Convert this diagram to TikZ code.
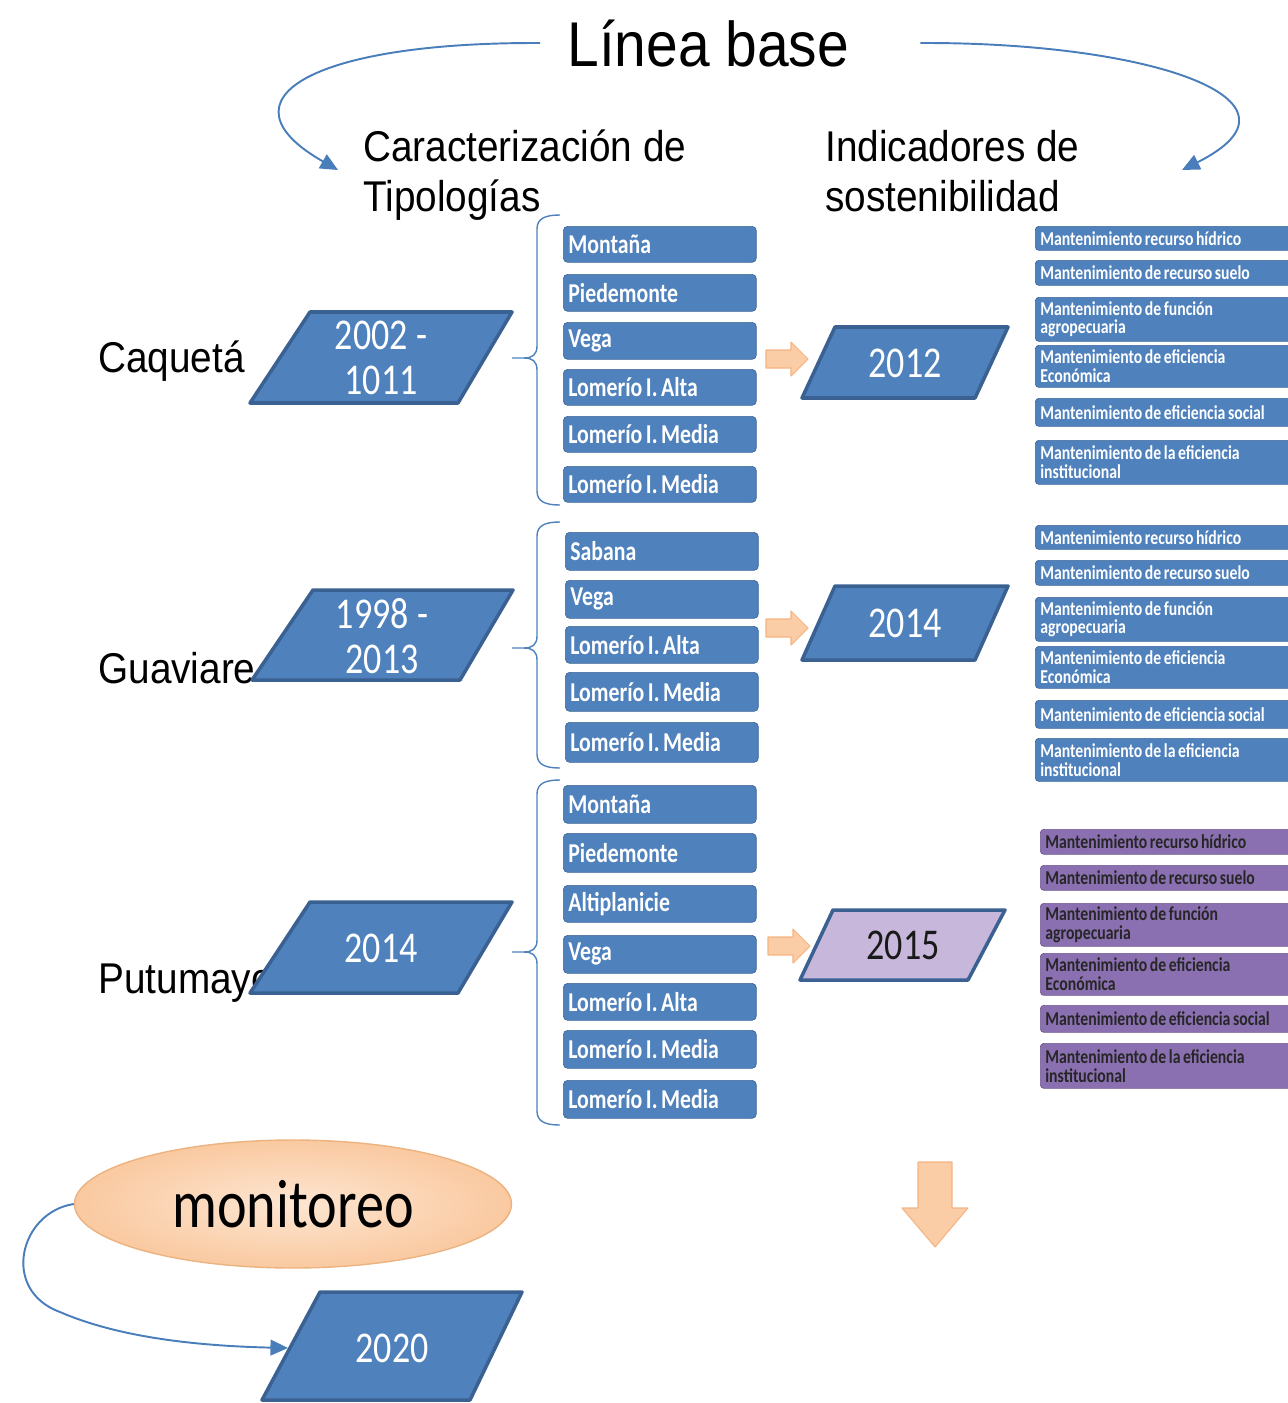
\documentclass[tikz,border=0pt]{standalone}
\usepackage{fontspec}
\setmainfont{Liberation Sans}
\newfontfamily\arialn{Liberation Sans}[FakeStretch=0.9]
\newfontfamily\cbri{Carlito}[FakeStretch=0.82]
\newfontfamily\cbrib{Carlito}[FakeStretch=0.8]
\usetikzlibrary{arrows.meta,shapes.geometric}
\frenchspacing

\definecolor{boxblue}{HTML}{4F81BD}
\definecolor{edgeblue}{HTML}{3A6191}
\definecolor{linkblue}{HTML}{4A7EBB}
\definecolor{purp}{HTML}{8B70B1}
\definecolor{lav}{HTML}{C7B7DA}
\definecolor{orfill}{HTML}{FBCDA6}
\definecolor{oredge}{HTML}{F5B482}
\definecolor{ellin}{HTML}{FDE6D2}
\definecolor{ellout}{HTML}{FAC9A0}
\definecolor{elledge}{HTML}{ECB380}

% curly bracket opening to the right: top y, tip y, bottom y
\newcommand\tbrace[3]{%
  \draw[bracket] (560,#1) .. controls (546,#1) and (537,#1+3) .. (537,#1+14)
    -- (537,#2-12) .. controls (537,#2-3) and (532,#2) .. (524,#2) -- (512,#2);
  \draw[bracket] (524,#2) .. controls (532,#2) and (537,#2+3) .. (537,#2+12)
    -- (537,#3-14) .. controls (537,#3-3) and (546,#3) .. (560,#3);}

% small block arrow pointing right: left x, centre y
\newcommand\orarrow[2]{%
  \draw[oarrow] (#1,#2-9) -- (#1+25,#2-9) -- (#1+25,#2-17) -- (#1+42,#2)
    -- (#1+25,#2+17) -- (#1+25,#2+9) -- (#1,#2+9) -- cycle;}

% narrow interword spacing for the condensed box labels
\newcommand\tightspaces{\spaceskip=0.13em plus 0.05em\relax}

\begin{document}
\begin{tikzpicture}[x=0.02cm,y=-0.02cm,
  lbox/.style={draw=boxblue!80!black, line width=0.4pt, fill=boxblue,
    rounded corners=2.5pt, anchor=north west, minimum width=3.86cm,
    text width=3.66cm, inner xsep=1mm, inner ysep=0pt, align=left,
    text=white, font=\cbrib\bfseries\fontsize{15.5}{15.5}\selectfont,
    execute at begin node=\tightspaces},
  ht/.style={minimum height=#1*0.02cm},
  rbox/.style={draw=boxblue!80!black, line width=0.4pt, fill=boxblue,
    rounded corners=2pt, anchor=north west, minimum width=5.4cm,
    text width=5.2cm, inner xsep=1mm, inner ysep=0pt, align=left,
    text=white, font=\cbrib\bfseries\fontsize{11.2}{10.6}\selectfont,
    execute at begin node=\tightspaces},
  pbox/.style={rbox, fill=purp, draw=purp!80!black, text=black!85},
  para/.style={fill=boxblue, draw=edgeblue, line width=2pt, line join=round},
  datetxt/.style={text=white, align=center, inner sep=0pt,
    font=\cbri\fontsize{25}{26}\selectfont},
  state/.style={anchor=base west, inner sep=0pt,
    font=\arialn\fontsize{24.5}{29}\selectfont},
  link/.style={draw=linkblue, line width=1.1pt,
    -{Triangle[length=10pt,width=9pt]}},
  bracket/.style={draw=boxblue, line width=0.8pt},
  oarrow/.style={fill=orfill, draw=oredge, line width=0.6pt, line join=round}
]
\useasboundingbox (0,0) rectangle (1288,1403);

% ---------- heading ----------
\node[anchor=base west, inner sep=0pt, font=\arialn\fontsize{36}{40}\selectfont]
  (title) at (567,66) {Línea base};
\node[state] (hdrA1) at (363,161) {Caracterización de};
\node[state] (hdrA2) at (363,211) {Tipologías};
\node[state] (hdrB1) at (825,161) {Indicadores de};
\node[state] (hdrB2) at (825,211) {sostenibilidad};

\coordinate (tipL) at (338,170);
\coordinate (tipR) at (1182,170);
\draw[link] ([xshift=-5.4mm]title.west) .. controls (310,42) and (215,100) .. (tipL);
\draw[link] ([xshift=14.2mm]title.east) .. controls (1150,42) and (1322,100) .. (tipR);

% ---------- Caquetá ----------
\node[state] (caq) at (98,372) {Caquetá};
\draw[para] (310,312) -- (512,312) -- (458,403) -- (250,403) -- cycle;
\node[datetxt] (d1) at (381,358) {2002 -\\1011};
\tbrace{215}{358}{505}
\node[lbox,ht=36] (a1) at (563,226) {Montaña};
\node[lbox,ht=37] (a2) at (563,274) {Piedemonte};
\node[lbox,ht=37] (a3) at (563,322) {Vega};
\node[lbox,ht=36] (a4) at (563,369) {Lomerío I. Alta};
\node[lbox,ht=36] (a5) at (563,416) {Lomerío I. Media};
\node[lbox,ht=36] (a6) at (563,466) {Lomerío I. Media};
\orarrow{766}{359}
\draw[para] (835,327) -- (1008,327) -- (975,398) -- (802,398) -- cycle;
\node[datetxt] (e1) at (905,363) {2012};
\node[rbox,ht=24] (r11) at (1035,226) {Mantenimiento recurso hídrico};
\node[rbox,ht=25] (r12) at (1035,260) {Mantenimiento de recurso suelo};
\node[rbox,ht=44] (r13) at (1035,297) {Mantenimiento de función\\agropecuaria};
\node[rbox,ht=42] (r14) at (1035,345) {Mantenimiento de eficiencia\\Económica};
\node[rbox,ht=28] (r15) at (1035,398) {Mantenimiento de eficiencia social};
\node[rbox,ht=44] (r16) at (1035,440) {Mantenimiento de la eficiencia\\institucional};

% ---------- Guaviare ----------
\node[state] (gua) at (98,683) {Guaviare};
\draw[para] (313,590) -- (513,590) -- (460,680) -- (252,680) -- cycle;
\node[datetxt] (d2) at (382,636) {1998 -\\2013};
\tbrace{522}{648}{768}
\node[lbox,ht=38] (b1) at (565,532) {Sabana};
\node[lbox,ht=38] (b2) at (565,580) {Vega};
\node[lbox,ht=37] (b3) at (565,626) {Lomerío I. Alta};
\node[lbox,ht=39] (b4) at (565,672) {Lomerío I. Media};
\node[lbox,ht=40] (b5) at (565,722) {Lomerío I. Media};
\orarrow{766}{628}
\draw[para] (835,586) -- (1008,586) -- (975,660) -- (802,660) -- cycle;
\node[datetxt] (e2) at (905,623) {2014};
\node[rbox,ht=24] (r21) at (1035,525) {Mantenimiento recurso hídrico};
\node[rbox,ht=25] (r22) at (1035,560) {Mantenimiento de recurso suelo};
\node[rbox,ht=44] (r23) at (1035,597) {Mantenimiento de función\\agropecuaria};
\node[rbox,ht=42] (r24) at (1035,646) {Mantenimiento de eficiencia\\Económica};
\node[rbox,ht=28] (r25) at (1035,700) {Mantenimiento de eficiencia social};
\node[rbox,ht=43] (r26) at (1035,738) {Mantenimiento de la eficiencia\\institucional};

% ---------- Putumayo ----------
\node[state] (put) at (98,993) {Putumayo};
\draw[para] (310,902) -- (512,902) -- (458,993) -- (250,993) -- cycle;
\node[datetxt] (d3) at (381,948) {2014};
\tbrace{780}{952}{1125}
\node[lbox,ht=38] (c1) at (563,785) {Montaña};
\node[lbox,ht=39] (c2) at (563,833) {Piedemonte};
\node[lbox,ht=37] (c3) at (563,885) {Altiplanicie};
\node[lbox,ht=38] (c4) at (563,935) {Vega};
\node[lbox,ht=37] (c5) at (563,983) {Lomerío I. Alta};
\node[lbox,ht=38] (c6) at (563,1030) {Lomerío I. Media};
\node[lbox,ht=38] (c7) at (563,1080) {Lomerío I. Media};
\orarrow{768}{946}
\draw[para, fill=lav] (833,910) -- (1005,910) -- (968,980) -- (800,980) -- cycle;
\node[datetxt, text=black!90] (e3) at (903,945) {2015};
\node[pbox,ht=25] (r31) at (1040,829) {Mantenimiento recurso hídrico};
\node[pbox,ht=25] (r32) at (1040,865) {Mantenimiento de recurso suelo};
\node[pbox,ht=43] (r33) at (1040,903) {Mantenimiento de función\\agropecuaria};
\node[pbox,ht=42] (r34) at (1040,953) {Mantenimiento de eficiencia\\Económica};
\node[pbox,ht=27] (r35) at (1040,1005) {Mantenimiento de eficiencia social};
\node[pbox,ht=45] (r36) at (1040,1043) {Mantenimiento de la eficiencia\\institucional};

% ---------- downward block arrow ----------
\draw[oarrow] (918,1162) -- (952,1162) -- (952,1208) -- (968,1208) -- (935,1247)
  -- (902,1208) -- (918,1208) -- cycle;

% ---------- monitoring ----------
\node[ellipse, minimum width=437*0.02cm, minimum height=128*0.02cm,
  inner color=ellin, outer color=ellout, draw=elledge, line width=0.8pt,
  font=\cbri\fontsize{39}{40}\selectfont] (mon) at (293,1204) {monitoreo};
\draw[para] (320,1292) -- (522,1292) -- (470,1400) -- (262,1400) -- cycle;
\node[datetxt] (d4) at (392,1348) {2020};
\coordinate (tip2020) at (288,1348);
\draw[link] (mon.west) .. controls (20,1212) and (0,1290) .. (60,1312)
  .. controls (120,1338) and (200,1346) .. (tip2020);
\end{tikzpicture}
\end{document}
